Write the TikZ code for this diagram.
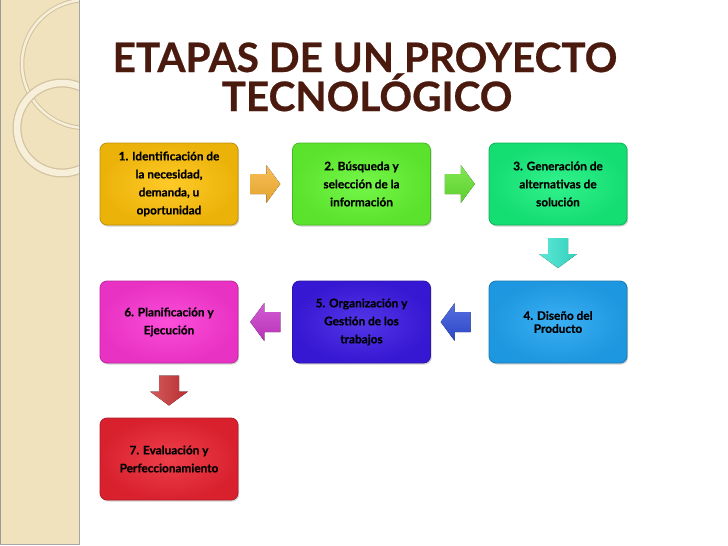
\documentclass[tikz,border=0pt]{standalone}
\usepackage{fontspec}
\setmainfont{Lato}[BoldFeatures={FakeBold=0.6}]
\usetikzlibrary{shadows,calc}
\definecolor{panel}{HTML}{EFE2BD}
\definecolor{ringdark}{HTML}{D2C39E}
\definecolor{ringlight}{HTML}{F7EFDA}
\definecolor{titlecol}{HTML}{4A1A0E}
\definecolor{c1}{HTML}{FFC20A}
\definecolor{c2}{HTML}{62F630}
\definecolor{c3}{HTML}{16F07C}
\definecolor{c4}{HTML}{20A4F2}
\definecolor{c5}{HTML}{3C1AE4}
\definecolor{c6}{HTML}{FC36D4}
\definecolor{c7}{HTML}{EC2432}
\definecolor{a1}{HTML}{F6B030}
\definecolor{a2}{HTML}{62E22C}
\definecolor{a3}{HTML}{36E2CC}
\definecolor{a4}{HTML}{2E4CD8}
\definecolor{a5}{HTML}{C834C8}
\definecolor{a6}{HTML}{C83234}
\tikzset{
  stagebox/.style={rounded corners=7pt, minimum width=138, minimum height=82,
    inner color=#1!88!white, outer color=#1!92!black, draw=#1!75!black, line width=0.8pt,
    drop shadow={shadow xshift=1.2pt, shadow yshift=-1.5pt, opacity=0.35},
    align=center, font=\bfseries\fontsize{11.8}{18}\selectfont, text=black},
  blockarrow/.pic={
    \fill[pic actions] (-15,-10) -- (1,-10) -- (1,-19) -- (15,0) -- (1,19) -- (1,10) -- (-15,10) -- cycle;
  },
  titletext/.style={text=titlecol, font=\bfseries\fontsize{40.5}{44}\selectfont, inner sep=0pt}
}
\begin{document}
\begin{tikzpicture}[x=1pt,y=-1pt]
\useasboundingbox (0,0) rectangle (728,546);
\fill[white] (0,0) rectangle (728,546);
% left decorative panel
\begin{scope}
  \clip (0,0) rectangle (79,544);
  \fill[panel] (0,0) rectangle (79,544);
  \draw[ringdark, line width=4.5pt] (86,64) circle[radius=64];
  \draw[ringlight, line width=2.5pt] (86,64) circle[radius=64];
  \draw[ringdark, line width=9pt] (62,128) circle[radius=45];
  \draw[ringlight, line width=6.5pt] (62,128) circle[radius=45];
\end{scope}
\draw[gray!70, line width=1pt] (79,0) -- (79,544) -- (0,544);
\draw[gray!80, line width=0.8pt] (0.5,0) -- (0.5,544);
% title
\node[titletext, anchor=base] (t1) at (365,72) {ETAPAS DE UN PROYECTO};
\node[titletext, anchor=base] (t2) at (367,111) {TECNOLÓGICO};
% boxes
\node[stagebox=c1] (b1) at (169,184) {1. Identificación de\\la necesidad,\\demanda, u\\oportunidad};
\node[stagebox=c2] (b2) at (361.5,184) {2. Búsqueda y\\selección de la\\información};
\node[stagebox=c3] (b3) at (558,184) {3. Generación de\\alternativas de\\solución};
\node[stagebox=c4, font=\bfseries\fontsize{11.8}{13}\selectfont] (b4) at (558,322) {4. Diseño del\\Producto};
\node[stagebox=c5] (b5) at (361.5,322) {5. Organización y\\Gestión de los\\trabajos};
\node[stagebox=c6] (b6) at (169,322) {6. Planificación y\\Ejecución};
\node[stagebox=c7] (b7) at (169,459) {7. Evaluación y\\Perfeccionamiento};
% block arrows
\pic[top color=a1!80!white, bottom color=a1!92!black] (ar1) at ($(b1.east)!0.5!(b2.west)$) {blockarrow};
\pic[top color=a2!80!white, bottom color=a2!92!black] (ar2) at ($(b2.east)!0.5!(b3.west)$) {blockarrow};
\pic[rotate=-90, left color=a3!80!white, right color=a3!92!black] (ar3) at ($(b3.south)!0.5!(b4.north)$) {blockarrow};
\pic[rotate=180, top color=a4!80!white, bottom color=a4!92!black] (ar4) at ($(b5.east)!0.43!(b4.west)$) {blockarrow};
\pic[rotate=180, top color=a5!80!white, bottom color=a5!92!black] (ar5) at ($(b6.east)!0.5!(b5.west)$) {blockarrow};
\pic[rotate=-90, left color=a6!80!white, right color=a6!92!black] (ar6) at ($(b6.south)!0.5!(b7.north)$) {blockarrow};
\end{tikzpicture}
\end{document}
